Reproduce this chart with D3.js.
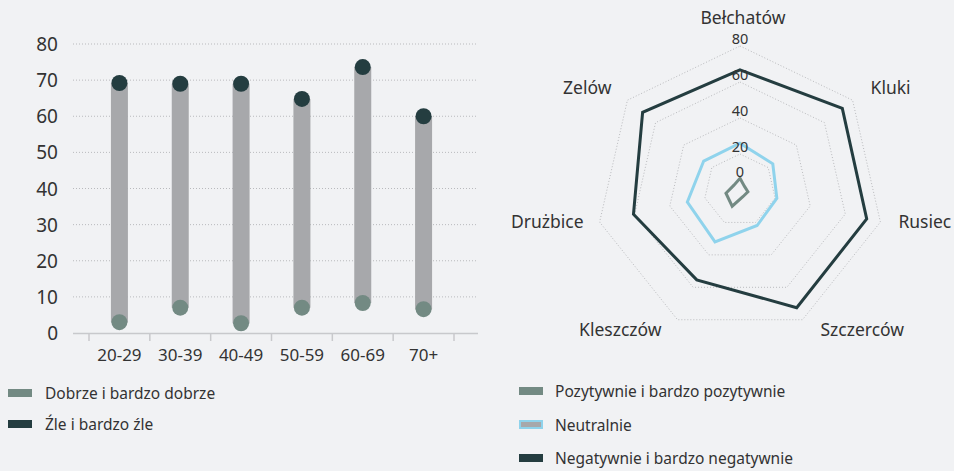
<!DOCTYPE html>
<html>
<head>
<meta charset="utf-8">
<script src="https://cdn.jsdelivr.net/npm/d3@7"></script>
<style>
  html, body { margin: 0; padding: 0; background: #f1f2f4; }
  svg { display: block; font-family: "Noto Sans", "Open Sans", sans-serif; }
  text { fill: #333; }
</style>
</head>
<body>
<svg id="chart" width="954" height="471"></svg>
<script>
// --- left: age groups (dumbbell) ---
const ageGroups = ['20-29', '30-39', '40-49', '50-59', '60-69', '70+'];
const goodValues = [3, 7, 2.7, 7, 8.3, 6.6];     // Dobrze i bardzo dobrze
const badValues = [69.2, 69, 69, 64.8, 73.6, 60]; // Źle i bardzo źle
const yTicks = [0, 10, 20, 30, 40, 50, 60, 70, 80];

// --- right: communes (radar) ---
const communes = ['Bełchatów', 'Kluki', 'Rusiec', 'Szczerców', 'Kleszczów', 'Drużbice', 'Zelów'];
const positiveValues = [6.5, 3.2, 4.5, 4, 10, 8, 4.3];
const neutralValues = [26, 23.3, 21, 21.9, 32, 30, 25.8];
const negativeValues = [66.7, 72.7, 72.2, 72.6, 55.4, 60.7, 69.2];
const radarTicks = [0, 20, 40, 60, 80];

const colors = {
  good: '#738a83',
  bad: '#243d40',
  bar: '#a7a8ab',
  neutral: '#8fd3ec',
  grid: '#b9babd'
};

const svg = d3.select('#chart');

// ================= dumbbell chart =================
const y = d3.scaleLinear().domain([0, 80]).range([333, 44]);
const x = d3.scaleBand().domain(ageGroups).range([89, 454]).padding(0);
const plotLeft = 73, plotRight = 478;

const lg = svg.append('g');

lg.append('g').selectAll('line')
  .data(yTicks.filter((d) => d > 0))
  .join('line')
  .attr('x1', plotLeft).attr('x2', plotRight)
  .attr('y1', (d) => y(d)).attr('y2', (d) => y(d))
  .attr('stroke', colors.grid)
  .attr('stroke-width', 1)
  .attr('stroke-dasharray', '1,2');

lg.append('g').selectAll('text')
  .data(yTicks)
  .join('text')
  .attr('x', 58)
  .attr('y', (d) => y(d))
  .attr('text-anchor', 'end')
  .attr('dominant-baseline', 'central')
  .attr('font-size', 19)
  .text((d) => d);

// x axis line + boundary ticks
lg.append('line')
  .attr('x1', plotLeft).attr('x2', plotRight)
  .attr('y1', y(0) + 0.5).attr('y2', y(0) + 0.5)
  .attr('stroke', '#c8c9cc').attr('stroke-width', 1.5);

const bounds = ageGroups.map((d) => x(d)).concat([x(ageGroups[ageGroups.length - 1]) + x.bandwidth()]);
lg.append('g').selectAll('line')
  .data(bounds)
  .join('line')
  .attr('x1', (d) => d).attr('x2', (d) => d)
  .attr('y1', y(0)).attr('y2', y(0) + 8)
  .attr('stroke', '#c8c9cc').attr('stroke-width', 1.5);

lg.append('g').selectAll('text')
  .data(ageGroups)
  .join('text')
  .attr('x', (d) => x(d) + x.bandwidth() / 2)
  .attr('y', 354)
  .attr('text-anchor', 'middle')
  .attr('dominant-baseline', 'central')
  .attr('font-size', 17)
  .text((d) => d);

const rows = ageGroups.map((g, i) => ({ group: g, low: goodValues[i], high: badValues[i] }));

lg.append('g').selectAll('line')
  .data(rows)
  .join('line')
  .attr('x1', (d) => x(d.group) + x.bandwidth() / 2)
  .attr('x2', (d) => x(d.group) + x.bandwidth() / 2)
  .attr('y1', (d) => y(d.low))
  .attr('y2', (d) => y(d.high))
  .attr('stroke', colors.bar)
  .attr('stroke-width', 17);

lg.append('g').selectAll('circle')
  .data(rows)
  .join('circle')
  .attr('cx', (d) => x(d.group) + x.bandwidth() / 2)
  .attr('cy', (d) => y(d.low))
  .attr('r', 8)
  .attr('fill', colors.good);

lg.append('g').selectAll('circle')
  .data(rows)
  .join('circle')
  .attr('cx', (d) => x(d.group) + x.bandwidth() / 2)
  .attr('cy', (d) => y(d.high))
  .attr('r', 8)
  .attr('fill', colors.bad);

// left legend
const leftLegend = [
  { label: 'Dobrze i bardzo dobrze', color: colors.good },
  { label: 'Źle i bardzo źle', color: colors.bad }
];
const ll = svg.append('g').selectAll('g')
  .data(leftLegend)
  .join('g')
  .attr('transform', (d, i) => `translate(8, ${393 + i * 31})`);
ll.append('rect').attr('x', 0).attr('y', -4).attr('width', 24).attr('height', 8).attr('fill', (d) => d.color);
ll.append('text').attr('x', 37).attr('y', 0).attr('dominant-baseline', 'central')
  .attr('font-size', 15.5).text((d) => d.label);

// ================= radar chart =================
const cx = 740, cy = 190;
const r = d3.scaleLinear().domain([0, 80]).range([0, 144]);
const n = communes.length;
const angle = (i) => (i * 2 * Math.PI) / n;
const pt = (i, v) => [cx + r(v) * Math.sin(angle(i)), cy - r(v) * Math.cos(angle(i))];

const rg = svg.append('g');

// grid rings
rg.append('g').selectAll('polygon')
  .data(radarTicks.filter((d) => d > 0))
  .join('polygon')
  .attr('points', (v) => communes.map((c, i) => pt(i, v).join(',')).join(' '))
  .attr('fill', 'none')
  .attr('stroke', colors.grid)
  .attr('stroke-width', 1)
  .attr('stroke-dasharray', '1,2');

const series = [
  { name: 'Negatywnie i bardzo negatywnie', values: negativeValues, color: colors.bad },
  { name: 'Neutralnie', values: neutralValues, color: colors.neutral },
  { name: 'Pozytywnie i bardzo pozytywnie', values: positiveValues, color: colors.good }
];

rg.append('g').selectAll('polygon')
  .data(series)
  .join('polygon')
  .attr('points', (s) => s.values.map((v, i) => pt(i, v).join(',')).join(' '))
  .attr('fill', 'none')
  .attr('stroke', (s) => s.color)
  .attr('stroke-width', 3)
  .attr('stroke-linejoin', 'miter');

// radial tick labels
rg.append('g').selectAll('text')
  .data(radarTicks)
  .join('text')
  .attr('x', cx)
  .attr('y', (v) => cy - Math.max(r(v), 11) - 8)
  .attr('text-anchor', 'middle')
  .attr('dominant-baseline', 'central')
  .attr('font-size', 14.5)
  .text((v) => v);

// category labels
rg.append('g').selectAll('text')
  .data(communes)
  .join('text')
  .attr('x', (c, i) => {
    const [vx] = pt(i, 80);
    const s = Math.sin(angle(i));
    return Math.abs(s) < 0.1 ? vx + 3 : vx + (s > 0 ? 18 : -16);
  })
  .attr('y', (c, i) => {
    const [, vy] = pt(i, 80);
    const co = Math.cos(angle(i));
    return Math.abs(Math.sin(angle(i))) < 0.1 ? vy - 29 : vy - 15 * co - 4;
  })
  .attr('text-anchor', (c, i) => {
    const s = Math.sin(angle(i));
    return Math.abs(s) < 0.1 ? 'middle' : (s > 0 ? 'start' : 'end');
  })
  .attr('dominant-baseline', 'central')
  .attr('font-size', 17.5)
  .text((c) => c);

// right legend
const rightLegend = [
  { label: 'Pozytywnie i bardzo pozytywnie', fill: colors.good, stroke: 'none' },
  { label: 'Neutralnie', fill: colors.bar, stroke: colors.neutral },
  { label: 'Negatywnie i bardzo negatywnie', fill: colors.bad, stroke: 'none' }
];
const rl = svg.append('g').selectAll('g')
  .data(rightLegend)
  .join('g')
  .attr('transform', (d, i) => `translate(519, ${391 + i * 33.5})`);
rl.append('rect')
  .attr('x', (d) => d.stroke === 'none' ? 0 : 1)
  .attr('y', (d) => d.stroke === 'none' ? -4 : -3.5)
  .attr('width', (d) => d.stroke === 'none' ? 24 : 22)
  .attr('height', (d) => d.stroke === 'none' ? 8 : 7)
  .attr('fill', (d) => d.fill)
  .attr('stroke', (d) => d.stroke)
  .attr('stroke-width', 2);
rl.append('text').attr('x', 36).attr('y', 0).attr('dominant-baseline', 'central')
  .attr('font-size', 15.5).text((d) => d.label);
</script>
</body>
</html>
